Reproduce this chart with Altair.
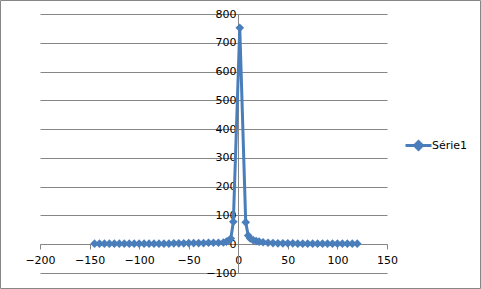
import altair as alt
import pandas as pd

# Data
x_vals = [-145, -140, -135, -130, -125, -120, -115, -110, -105, -100,
          -95, -90, -85, -80, -75, -70, -65, -60, -55, -50,
          -45, -40, -35, -30, -25, -20, -15, -12, -10, -7.5,
          -5, 1.5, 7.5, 10, 12, 15, 18, 21, 25, 30,
          35, 40, 45, 50, 55, 60, 65, 70, 75, 80,
          85, 90, 95, 100, 105, 110, 115, 120]
y_vals = [2, 2, 2, 2, 2, 2, 2, 2, 2, 2,
          2, 2, 2, 2, 2, 2, 3, 3, 3, 4,
          4, 4, 4, 5, 5, 5, 6, 9, 12, 20,
          78, 752, 76, 30, 20, 14, 11, 9, 7, 5,
          4, 3, 3, 3, 3, 2, 2, 2, 2, 2,
          2, 2, 2, 2, 2, 2, 2, 2]
series_name = "Série1"
x_ticks = [-200, -150, -100, -50, 0, 50, 100, 150]
y_ticks = [-100, 0, 100, 200, 300, 400, 500, 600, 700, 800]

df = pd.DataFrame({"x": x_vals, "y": y_vals, "s": [series_name] * len(x_vals)})

BLUE = "#4A7EBB"
GREY = "#868686"
FONT = "DejaVu Sans"

xs = alt.Scale(domain=[-200, 150], nice=False, zero=False)
ys = alt.Scale(domain=[-100, 800], nice=False, zero=False)

diamond_line = "M-1.5,0H1.5M0,-0.45L0.45,0L0,0.45L-0.45,0Z"

line = alt.Chart(df).mark_line(
    point=alt.OverlayMarkDef(shape="diamond", size=75, filled=True, color=BLUE),
    strokeWidth=3, color=BLUE
).encode(
    x=alt.X("x:Q", scale=xs, axis=alt.Axis(
        values=x_ticks, offset=-29, grid=False, domainColor=GREY, tickColor=GREY,
        tickSize=5, labelPadding=5, title=None, labelFont=FONT, labelFontSize=11,
        labelColor="#000000", labelFlush=False, domainWidth=1)),
    y=alt.Y("y:Q", scale=ys, axis=alt.Axis(
        values=y_ticks, offset=-198, grid=True, gridColor=GREY, domainColor=GREY,
        ticks=False, labelPadding=2, title=None, labelFont=FONT, labelFontSize=11,
        labelColor="#000000", labelFlush=False)),
    color=alt.Color("s:N", scale=alt.Scale(range=[BLUE]), legend=alt.Legend(
        title=None, orient="none", legendX=368, legendY=121, symbolType=diamond_line,
        symbolSize=300, symbolStrokeWidth=3, symbolStrokeColor=BLUE, symbolFillColor=BLUE,
        labelFont=FONT, labelFontSize=11, labelColor="#000000", padding=0, labelOffset=3)),
    order="x:Q",
)

border = alt.Chart(pd.DataFrame({"a": [0]})).mark_rect(
    fill=None, stroke=GREY, strokeWidth=1, clip=False
).encode(
    x=alt.value(-39.5), x2=alt.value(440.5), y=alt.value(-13.5), y2=alt.value(274.5)
)

chart = alt.layer(line, border).properties(
    width=347, height=259,
    autosize=alt.AutoSizeParams(type="none"),
    padding={"left": 40, "top": 14, "right": 94, "bottom": 16},
    background="#ffffff",
).configure_view(stroke=None)

chart.save("out.html", embed_options={"renderer": "svg", "actions": False})
